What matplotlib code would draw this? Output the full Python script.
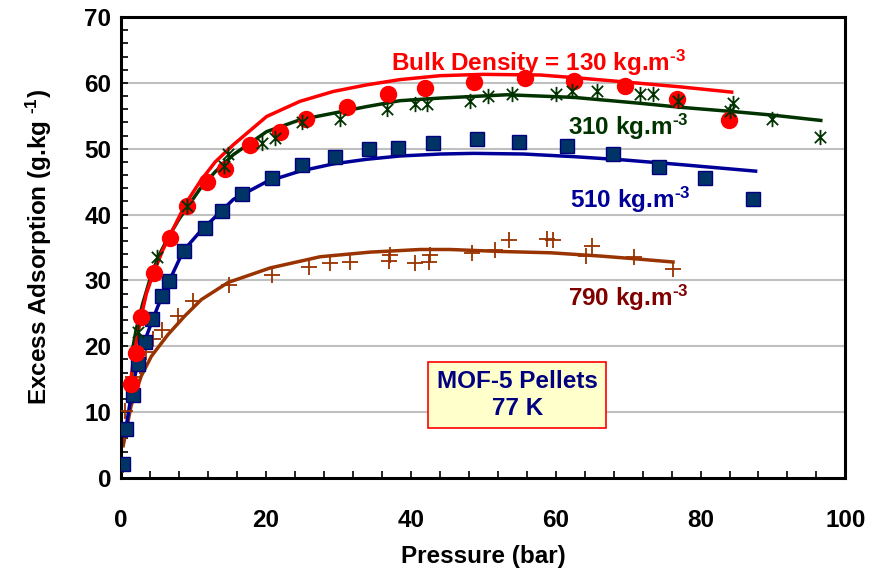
import matplotlib
matplotlib.use("Agg")
import matplotlib.pyplot as plt
from matplotlib.path import Path
from matplotlib.ticker import MultipleLocator

plt.rcParams['font.family'] = ['Liberation Sans', 'DejaVu Sans']
plt.rcParams['font.weight'] = 'bold'
plt.rcParams['mathtext.fontset'] = 'custom'
plt.rcParams['mathtext.rm'] = 'Liberation Sans:bold'
plt.rcParams['mathtext.bf'] = 'Liberation Sans:bold'
plt.rcParams['mathtext.default'] = 'bf'

# ---- data: measured points ----
p130 = [1.4, 2.0, 2.7, 4.6, 6.7, 9.1, 11.8, 14.4, 17.8, 22.0, 25.6, 31.2, 36.8, 42.0, 48.7, 55.8, 62.5, 69.6, 76.8, 83.9]
q130 = [14.3, 19.0, 24.5, 31.1, 36.5, 41.3, 44.9, 46.9, 50.5, 52.6, 54.5, 56.3, 58.3, 59.2, 60.1, 60.7, 60.3, 59.6, 57.6, 54.3]

p310 = [2.3, 5.0, 9.1, 14.2, 14.8, 19.4, 21.3, 25.0, 30.2, 36.7, 40.6, 42.3, 48.2, 50.7, 54.0, 60.0, 62.2, 65.7, 71.7, 73.4, 76.9, 84.1, 84.5, 89.9, 96.5]
q310 = [22.1, 33.5, 41.3, 47.4, 49.2, 50.9, 51.7, 54.0, 54.5, 56.0, 56.8, 56.8, 57.3, 58.0, 58.3, 58.3, 58.8, 58.7, 58.3, 58.3, 57.3, 55.7, 56.9, 54.5, 51.8]

p510 = [0.3, 0.7, 1.7, 2.4, 3.3, 4.3, 5.6, 6.6, 8.7, 11.6, 13.9, 16.7, 20.8, 25.0, 29.6, 34.2, 38.3, 43.0, 49.1, 55.0, 61.6, 67.9, 74.2, 80.6, 87.3]
q510 = [2.1, 7.4, 12.6, 17.3, 20.7, 24.2, 27.7, 29.9, 34.4, 38.0, 40.6, 43.2, 45.6, 47.5, 48.8, 50.0, 50.1, 50.9, 51.5, 51.1, 50.4, 49.2, 47.3, 45.6, 42.4]

p790 = [0.3, 0.5, 1.7, 2.6, 3.5, 4.4, 5.6, 7.9, 9.9, 14.9, 20.8, 26.0, 28.8, 31.6, 37.0, 37.1, 40.6, 42.5, 42.7, 48.4, 51.6, 53.5, 58.8, 59.6, 64.2, 65.0, 70.8, 76.2]
q790 = [2.0, 10.2, 15.3, 17.0, 19.1, 21.1, 22.4, 24.6, 26.9, 29.3, 30.8, 32.1, 32.6, 32.8, 32.9, 33.8, 32.7, 32.8, 33.8, 34.2, 34.6, 36.1, 36.3, 36.1, 33.7, 35.3, 33.6, 31.8]

# ---- data: fitted curves ----
f130_x = [1.2, 1.6, 2.0, 2.8, 3.5, 4.4, 5.8, 7.5, 9.0, 10.9, 13.0, 15.5, 20.1, 24.7, 29.3, 33.9, 38.5, 44.1, 50.0, 57.9, 63.7, 70.0, 77.2, 84.3]
f130_y = [13.5, 17.0, 20.0, 24.6, 28.0, 30.9, 34.7, 38.5, 41.8, 45.0, 48.0, 50.6, 54.9, 57.2, 58.7, 59.7, 60.5, 61.1, 61.3, 61.2, 60.7, 60.1, 59.4, 58.6]

f310_x = [1.5, 2.1, 3.0, 4.0, 5.1, 6.5, 8.0, 9.2, 10.9, 13.0, 15.5, 20.1, 24.7, 29.3, 33.9, 38.5, 44.1, 53.3, 62.5, 71.7, 77.2, 85.0, 90.0, 96.6]
f310_y = [19.0, 22.6, 26.5, 30.2, 33.5, 36.5, 39.3, 41.2, 43.9, 46.5, 49.1, 52.6, 54.4, 55.4, 56.4, 57.3, 57.7, 58.2, 57.8, 56.9, 56.3, 55.6, 55.1, 54.3]

f510_x = [0.5, 1.4, 2.3, 3.7, 5.1, 7.2, 8.6, 10.9, 15.5, 20.1, 24.7, 29.3, 33.9, 38.5, 44.1, 48.7, 55.6, 62.5, 69.4, 77.2, 87.6]
f510_y = [6.4, 12.5, 17.6, 22.1, 26.1, 31.2, 34.5, 37.4, 42.3, 45.0, 46.6, 47.7, 48.4, 48.9, 49.2, 49.3, 49.2, 48.8, 48.3, 47.6, 46.6]

f790_x = [0.3, 1.4, 2.8, 4.2, 6.5, 8.8, 11.1, 14.8, 20.6, 27.5, 34.4, 41.3, 45.4, 52.3, 59.3, 66.2, 70.8, 76.2]
f790_y = [4.9, 11.0, 15.5, 18.5, 21.8, 24.6, 27.1, 29.7, 31.9, 33.6, 34.3, 34.7, 34.7, 34.4, 34.2, 33.7, 33.3, 32.8]

x_ticks = [0, 20, 40, 60, 80, 100]
y_ticks = [0, 10, 20, 30, 40, 50, 60, 70]

# star marker: X with a vertical bar
star = Path([(-1, -1), (1, 1), (-1, 1), (1, -1), (0, -1.35), (0, 1.35)],
            [Path.MOVETO, Path.LINETO, Path.MOVETO, Path.LINETO, Path.MOVETO, Path.LINETO])

FS = 17.5
SUP = r'$^{\text{-3}}$'

fig = plt.figure(figsize=(8.77, 5.69), dpi=100)
ax = fig.add_axes([0.138, 0.160, 0.826, 0.810])

for yv in y_ticks[1:-1]:
    ax.axhline(yv, color='#c0c0c0', lw=1.5, zorder=0)

ax.plot(f790_x, f790_y, color='#993300', lw=2.5, zorder=2)
ax.plot(f510_x, f510_y, color='#000099', lw=2.5, zorder=2)
ax.plot(f310_x, f310_y, color='#003300', lw=2.5, zorder=2)
ax.plot(f130_x, f130_y, color='#ff0000', lw=2.5, zorder=2)

ax.plot(p790, q790, ls='none', marker='+', ms=12, mew=1.3, color='#993300', zorder=3)
ax.plot(p510, q510, ls='none', marker='s', ms=10.5, mfc='#003366', mec='#000080', mew=1.0, zorder=3)
ax.plot(p130, q130, ls='none', marker='o', ms=11.5, mfc='#ff0000', mec='#ff0000', zorder=4)
ax.plot(p310, q310, ls='none', marker=star, ms=11, mew=1.3, color='#003300', mfc='none', zorder=5)

ax.set_xlim(0, 100)
ax.set_ylim(0, 70)
ax.set_xticks(x_ticks)
ax.set_yticks(y_ticks)
ax.xaxis.set_minor_locator(MultipleLocator(4))
ax.yaxis.set_minor_locator(MultipleLocator(2))
ax.tick_params(which='both', direction='in', length=5, width=1.2, color='black')
ax.tick_params(axis='x', which='major', pad=22, labelsize=FS)
ax.tick_params(axis='y', which='major', pad=7, labelsize=FS)
for lab in ax.get_xticklabels() + ax.get_yticklabels():
    lab.set_fontweight('bold')
for s in ax.spines.values():
    s.set_linewidth(2.2)
    s.set_color('black')

ax.set_xlabel('Pressure (bar)', fontsize=FS, fontweight='bold', labelpad=10)
ax.set_ylabel(r'Excess Adsorption (g.kg $^{\text{-1}}$)', fontsize=FS, fontweight='bold', labelpad=22)

ax.text(37.2, 63.1, 'Bulk Density = 130 kg.m' + SUP, color='#ff0000', fontsize=FS,
        fontweight='bold', va='center', ha='left')
ax.text(61.7, 53.3, '310 kg.m' + SUP, color='#003300', fontsize=FS,
        fontweight='bold', va='center', ha='left')
ax.text(62.0, 42.2, '510 kg.m' + SUP, color='#000099', fontsize=FS,
        fontweight='bold', va='center', ha='left')
ax.text(61.7, 27.3, '790 kg.m' + SUP, color='#800000', fontsize=FS,
        fontweight='bold', va='center', ha='left')

ax.text(54.7, 12.6, 'MOF-5 Pellets\n77 K', color='#000080', fontsize=FS, fontweight='bold',
        ha='center', va='center', linespacing=1.2,
        bbox=dict(boxstyle='square,pad=0.35', fc='#ffffcc', ec='#ff0000', lw=1.2))

fig.savefig('out.png', dpi=100)
